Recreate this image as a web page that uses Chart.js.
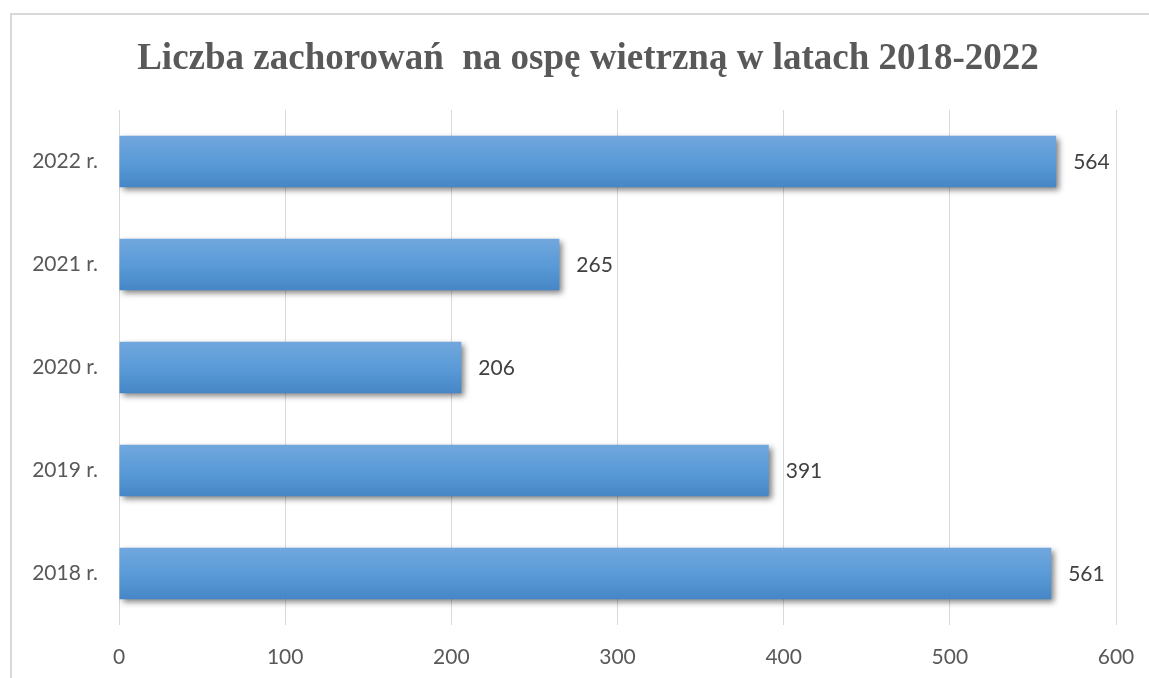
<!DOCTYPE html>
<html>
<head>
<meta charset="utf-8">
<script src="https://cdn.jsdelivr.net/npm/chart.js@4"></script>
<style>
  html, body { margin: 0; padding: 0; background: #fff; overflow: hidden; }
  #wrap { width: 1149px; height: 678px; position: relative; }
</style>
</head>
<body>
<div id="wrap"><canvas id="chart"></canvas></div>
<script>
// data
const years = ['2018 r.', '2019 r.', '2020 r.', '2021 r.', '2022 r.'];
const cases = [561, 391, 206, 265, 564];
const xTicks = [0, 100, 200, 300, 400, 500, 600];

const titleText = 'Liczba zachorowań  na ospę wietrzną w latach 2018-2022';

// frame round the chart (top and left side)
const framePlugin = {
    id: 'frame',
    beforeDraw(chart) {
        const c = chart.ctx;
        c.save();
        c.fillStyle = '#ffffff';
        c.fillRect(0, 0, chart.width, chart.height);
        c.strokeStyle = '#d9d9d9';
        c.lineWidth = 2;
        c.beginPath();
        c.moveTo(11, chart.height);
        c.lineTo(11, 14);
        c.lineTo(chart.width, 14);
        c.stroke();
        c.restore();
    }
};

// title, centred a bit right of the canvas middle like in the original
const titlePlugin = {
    id: 'offsetTitle',
    afterDraw(chart) {
        const c = chart.ctx;
        c.save();
        c.font = 'bold 37px "Liberation Serif"';
        c.fillStyle = '#595959';
        c.textAlign = 'center';
        c.textBaseline = 'alphabetic';
        c.fillText(titleText, 588, 69);
        c.restore();
    }
};

// soft shadow under the bars
const shadowPlugin = {
    id: 'barShadow',
    beforeDatasetsDraw(chart) {
        const c = chart.ctx;
        c.save();
        c.shadowColor = 'rgba(0,0,0,0.5)';
        c.shadowBlur = 6;
        c.shadowOffsetX = 3;
        c.shadowOffsetY = 3;
    },
    afterDatasetsDraw(chart) {
        chart.ctx.restore();
    }
};

// value labels at the end of each bar
const labelPlugin = {
    id: 'valueLabels',
    afterDatasetsDraw(chart) {
        const c = chart.ctx;
        const meta = chart.getDatasetMeta(0);
        c.save();
        c.font = '21px Lato';
        c.fillStyle = '#404040';
        c.textAlign = 'left';
        c.textBaseline = 'middle';
        meta.data.forEach((bar, i) => {
            c.fillText(String(cases[i]), bar.x + 17, bar.y + 1);
        });
        c.restore();
    }
};

function barGradient(context) {
    const chart = context.chart;
    const yScale = chart.scales.y;
    if (!yScale || context.dataIndex === undefined) return '#5b9bd5';
    const yc = yScale.getPixelForValue(context.dataIndex);
    const step = Math.abs(yScale.getPixelForValue(1) - yScale.getPixelForValue(0));
    const h = step * 0.25;
    if (!Number.isFinite(yc) || !Number.isFinite(h) || h <= 0) return '#5b9bd5';
    const g = chart.ctx.createLinearGradient(0, yc - h, 0, yc + h);
    g.addColorStop(0, '#71a7dd');
    g.addColorStop(0.5, '#5a9bd8');
    g.addColorStop(1, '#4686c6');
    return g;
}

const ctx = document.getElementById('chart').getContext('2d');
const chart = new Chart(ctx, {
    type: 'bar',
    data: {
        labels: years,
        datasets: [{
            data: cases,
            backgroundColor: barGradient,
            borderWidth: 0,
            categoryPercentage: 1,
            barPercentage: 0.5
        }]
    },
    options: {
        indexAxis: 'y',
        responsive: true,
        maintainAspectRatio: false,
        animation: false,
        layout: { padding: { top: 110, right: 33, bottom: 0, left: 0 } },
        plugins: {
            legend: { display: false },
            tooltip: { enabled: false },
            title: { display: false }
        },
        scales: {
            x: {
                min: 0,
                max: 600,
                afterBuildTicks(scale) {
                    scale.ticks = xTicks.map(v => ({ value: v }));
                },
                afterFit(scale) {
                    scale.height = 53;
                    scale.paddingLeft = 0;
                    scale.paddingRight = 0;
                },
                grid: { color: '#d9d9d9', lineWidth: 1, drawTicks: false },
                border: { display: false },
                ticks: {
                    padding: 20,
                    color: '#595959',
                    font: { family: 'Lato', size: 21 }
                }
            },
            y: {
                reverse: true,
                afterFit(scale) { scale.width = 119; },
                grid: { display: false },
                border: { display: false },
                ticks: {
                    padding: 13,
                    color: '#595959',
                    font: { family: 'Lato', size: 21 }
                }
            }
        }
    },
    plugins: [framePlugin, shadowPlugin, labelPlugin, titlePlugin]
});
// redraw once scales exist so the gradients get real coordinates
chart.update();
</script>
</body>
</html>
